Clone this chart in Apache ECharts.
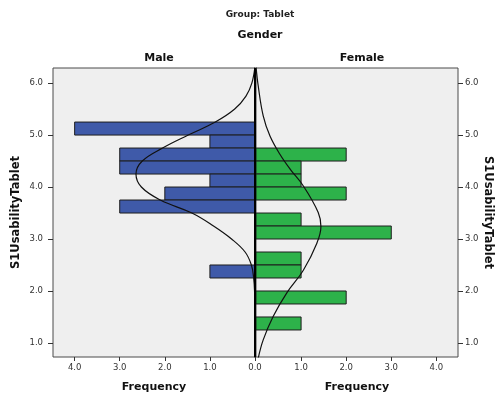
<!DOCTYPE html>
<html>
<head>
<meta charset="utf-8">
<script src="https://cdn.jsdelivr.net/npm/echarts@6/dist/echarts.min.js"></script>
<style>
  html, body { margin: 0; padding: 0; background: #ffffff; }
  #chart { width: 499px; height: 403px; }
</style>
</head>
<body>
<div id="chart"></div>
<script>
// Histogram bins (lower edge of each 0.25-wide bin) and counts per gender
const BIN_WIDTH = 0.25;
const maleBinStart = [5.0, 4.75, 4.5, 4.25, 4.0, 3.75, 3.5, 2.25];
const maleCount    = [4,   1,    3,   3,    1,   2,    3,   1];
const femaleBinStart = [4.5, 4.25, 4.0, 3.75, 3.25, 3.0, 2.5, 2.25, 1.75, 1.25];
const femaleCount    = [2,   1,    1,   2,    1,    3,   1,   1,    2,    1];

// Fitted normal curves: [score, expected frequency]
const maleCurve = [
  [6.32, 0.0], [6.0, 0.07], [5.75, 0.2], [5.5, 0.45], [5.25, 0.88], [5.0, 1.48],
  [4.75, 2.05], [4.5, 2.5], [4.25, 2.64], [4.0, 2.52], [3.75, 2.1], [3.5, 1.4],
  [3.25, 0.92], [3.0, 0.52], [2.75, 0.22], [2.5, 0.08], [2.25, 0.03], [2.0, 0.01],
  [1.5, 0.0], [0.7, 0.0]
];
const femaleCurve = [
  [6.32, 0.0], [5.94, 0.05], [5.37, 0.16], [4.98, 0.31], [4.63, 0.53], [4.34, 0.76],
  [4.02, 1.05], [3.51, 1.38], [3.24, 1.44], [2.92, 1.35], [2.4, 1.05], [1.96, 0.68],
  [1.51, 0.38], [1.06, 0.16], [0.71, 0.05]
];

// Axis ticks
const scoreTicks = [1, 2, 3, 4, 5, 6];
const maleFreqTicks = [0, 1, 2, 3, 4];
const femaleFreqTicks = [1, 2, 3, 4];

const SCORE_MIN = 0.73, SCORE_MAX = 6.29, FREQ_MAX = 4.48;
const MALE_COLOR = '#3f5aa9';
const FEMALE_COLOR = '#2db24a';
const FONT = 'DejaVu Sans';

function renderBin(params, api) {
  const n = api.value(0);
  const lo = api.value(1);
  const a = api.coord([0, lo]);
  const b = api.coord([n, lo + BIN_WIDTH]);
  return {
    type: 'rect',
    shape: {
      x: Math.min(a[0], b[0]), y: Math.min(a[1], b[1]),
      width: Math.abs(b[0] - a[0]), height: Math.abs(b[1] - a[1])
    },
    style: { fill: api.visual('color'), stroke: '#1e1e1e', lineWidth: 1 }
  };
}

function freqAxis(grid, inverse, ticks) {
  return {
    type: 'value', gridIndex: grid, inverse: inverse, min: 0, max: FREQ_MAX,
    name: 'Frequency', nameLocation: 'middle', nameGap: 25,
    nameTextStyle: { fontFamily: FONT, fontWeight: 'bold', fontSize: 11, color: '#111' },
    axisLine: { show: false, onZero: false },
    axisTick: { show: true, length: 4, customValues: ticks, lineStyle: { color: '#333' } },
    axisLabel: { customValues: ticks, margin: 6, fontFamily: FONT, fontSize: 8.5, color: '#333',
                 formatter: v => v.toFixed(1) },
    splitLine: { show: false }
  };
}

function scoreAxis(grid, pos, rotate, gap, labelMargin) {
  return {
    type: 'value', gridIndex: grid, position: pos, min: SCORE_MIN, max: SCORE_MAX,
    name: 'S1UsabilityTablet', nameLocation: 'middle', nameGap: gap, nameRotate: rotate,
    nameTextStyle: { fontFamily: FONT, fontWeight: 'bold', fontSize: 11.5, color: '#111' },
    axisLine: { show: false, onZero: false },
    axisTick: { show: true, length: 5, customValues: scoreTicks, lineStyle: { color: '#333' } },
    axisLabel: { customValues: scoreTicks, margin: labelMargin, fontFamily: FONT, fontSize: 8.5,
                 color: '#333', formatter: v => v.toFixed(1) },
    splitLine: { show: false }
  };
}

const chart = echarts.init(document.getElementById('chart'), null, { renderer: 'canvas' });

chart.setOption({
  animation: false,
  backgroundColor: '#ffffff',
  title: [
    { text: 'Group: Tablet', left: 255, top: 5, textAlign: 'center',
      textStyle: { fontFamily: FONT, fontWeight: 'bold', fontSize: 9, color: '#222' } },
    { text: 'Gender', left: 255, top: 25, textAlign: 'center',
      textStyle: { fontFamily: FONT, fontWeight: 'bold', fontSize: 11, color: '#111' } },
    { text: 'Male', left: 154, top: 48, textAlign: 'center',
      textStyle: { fontFamily: FONT, fontWeight: 'bold', fontSize: 11, color: '#111' } },
    { text: 'Female', left: 357, top: 48, textAlign: 'center',
      textStyle: { fontFamily: FONT, fontWeight: 'bold', fontSize: 11, color: '#111' } }
  ],
  grid: [
    { left: 53, top: 68, width: 202, height: 289, show: true,
      backgroundColor: '#efefef', borderColor: '#4a4a4a', borderWidth: 1 },
    { left: 256, top: 68, width: 202, height: 289, show: true,
      backgroundColor: '#efefef', borderColor: '#4a4a4a', borderWidth: 1 }
  ],
  xAxis: [
    freqAxis(0, true, maleFreqTicks),
    freqAxis(1, false, femaleFreqTicks)
  ],
  yAxis: [
    scoreAxis(0, 'left', 90, 31, 10),
    scoreAxis(1, 'right', -90, 24, 7)
  ],
  series: [
    {
      type: 'custom', name: 'Male', xAxisIndex: 0, yAxisIndex: 0,
      itemStyle: { color: MALE_COLOR },
      encode: { x: 0, y: 1 },
      data: maleBinStart.map((s, i) => [maleCount[i], s]),
      renderItem: renderBin, clip: true
    },
    {
      type: 'custom', name: 'Female', xAxisIndex: 1, yAxisIndex: 1,
      itemStyle: { color: FEMALE_COLOR },
      encode: { x: 0, y: 1 },
      data: femaleBinStart.map((s, i) => [femaleCount[i], s]),
      renderItem: renderBin, clip: true
    },
    {
      type: 'line', xAxisIndex: 0, yAxisIndex: 0, smooth: 0.4, symbol: 'none', clip: true,
      lineStyle: { color: '#111', width: 1.2 },
      data: maleCurve.map(p => [p[1], p[0]]),
      markLine: {
        silent: true, symbol: 'none', label: { show: false },
        lineStyle: { color: '#000', width: 2, type: 'solid' },
        data: [{ xAxis: 0 }]
      }
    },
    {
      type: 'line', xAxisIndex: 1, yAxisIndex: 1, smooth: 0.4, symbol: 'none', clip: true,
      lineStyle: { color: '#111', width: 1.2 },
      data: femaleCurve.map(p => [p[1], p[0]])
    }
  ]
});
</script>
</body>
</html>
